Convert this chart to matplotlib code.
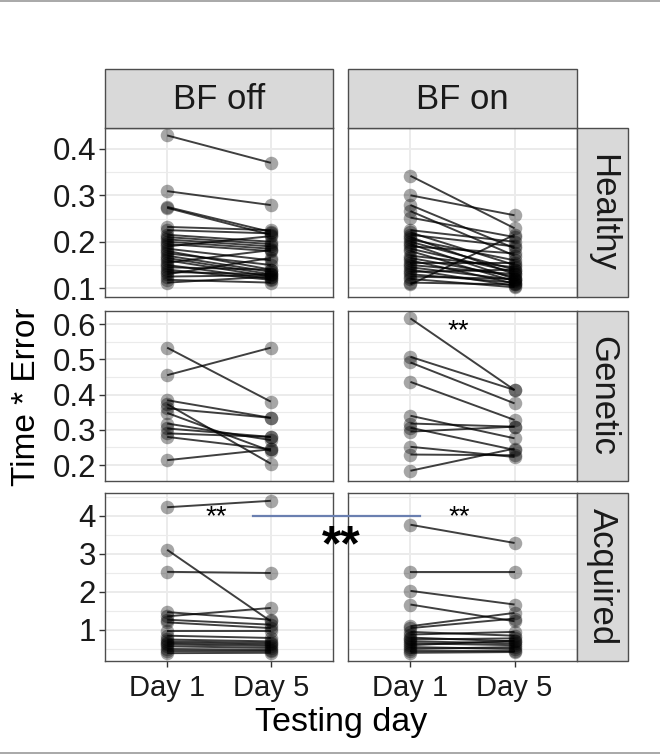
import matplotlib
matplotlib.use("Agg")
import matplotlib.pyplot as plt
from matplotlib.lines import Line2D
from matplotlib.patches import Rectangle

plt.rcParams['font.family'] = ['Liberation Sans', 'DejaVu Sans']

days = ["Day 1", "Day 5"]
conditions = ["BF off", "BF on"]
groups = ["Healthy", "Genetic", "Acquired"]

healthy_off_d1 = [0.429, 0.309, 0.275, 0.273, 0.232, 0.225, 0.215, 0.210, 0.205, 0.200, 0.195, 0.190,
                  0.185, 0.180, 0.175, 0.170, 0.165, 0.160, 0.155, 0.150, 0.145, 0.140, 0.135, 0.130,
                  0.125, 0.118, 0.112]
healthy_off_d5 = [0.370, 0.279, 0.221, 0.215, 0.225, 0.218, 0.200, 0.195, 0.190, 0.185, 0.180, 0.212,
                  0.160, 0.140, 0.150, 0.135, 0.130, 0.125, 0.182, 0.120, 0.140, 0.118, 0.130, 0.165,
                  0.128, 0.112, 0.125]
healthy_on_d1 = [0.342, 0.300, 0.279, 0.266, 0.252, 0.225, 0.220, 0.215, 0.210, 0.205, 0.200, 0.195,
                 0.190, 0.185, 0.180, 0.170, 0.165, 0.160, 0.155, 0.150, 0.145, 0.140, 0.135, 0.130,
                 0.125, 0.120, 0.112, 0.108]
healthy_on_d5 = [0.229, 0.257, 0.186, 0.170, 0.210, 0.200, 0.150, 0.190, 0.130, 0.160, 0.140, 0.120,
                 0.175, 0.135, 0.115, 0.145, 0.125, 0.110, 0.155, 0.130, 0.118, 0.105, 0.140, 0.112,
                 0.120, 0.102, 0.108, 0.215]
genetic_off_d1 = [0.533, 0.455, 0.384, 0.373, 0.361, 0.348, 0.318, 0.304, 0.290, 0.280, 0.214]
genetic_off_d5 = [0.380, 0.533, 0.334, 0.204, 0.334, 0.240, 0.271, 0.280, 0.280, 0.245, 0.245]
genetic_on_d1 = [0.616, 0.507, 0.491, 0.436, 0.340, 0.318, 0.306, 0.295, 0.252, 0.230, 0.184]
genetic_on_d5 = [0.413, 0.413, 0.375, 0.328, 0.276, 0.309, 0.243, 0.309, 0.223, 0.228, 0.247]
acquired_off_d1 = [4.23, 3.11, 2.53, 1.36, 1.47, 1.27, 1.20, 0.97, 0.85, 0.75, 0.70, 0.66, 0.62, 0.57,
                   0.50, 0.45, 0.39]
acquired_off_d5 = [4.40, 1.23, 2.50, 1.58, 1.27, 1.14, 1.05, 0.97, 0.79, 0.70, 0.66, 0.62, 0.58, 0.53,
                   0.48, 0.45, 0.40]
acquired_on_d1 = [3.77, 2.52, 2.03, 1.67, 1.10, 1.05, 0.95, 0.88, 0.80, 0.75, 0.70, 0.65, 0.60, 0.55,
                  0.50, 0.45, 0.40]
acquired_on_d5 = [3.29, 2.52, 1.67, 1.23, 1.45, 1.30, 0.85, 0.95, 0.70, 0.78, 0.65, 0.60, 0.72, 0.50,
                  0.55, 0.45, 0.42]

data = {
    ("Healthy", "BF off"): (healthy_off_d1, healthy_off_d5),
    ("Healthy", "BF on"): (healthy_on_d1, healthy_on_d5),
    ("Genetic", "BF off"): (genetic_off_d1, genetic_off_d5),
    ("Genetic", "BF on"): (genetic_on_d1, genetic_on_d5),
    ("Acquired", "BF off"): (acquired_off_d1, acquired_off_d5),
    ("Acquired", "BF on"): (acquired_on_d1, acquired_on_d5),
}
row_ticks = {
    "Healthy": [0.1, 0.2, 0.3, 0.4],
    "Genetic": [0.2, 0.3, 0.4, 0.5, 0.6],
    "Acquired": [1, 2, 3, 4],
}
row_limits = {
    "Healthy": (0.081, 0.445),
    "Genetic": (0.155, 0.637),
    "Acquired": (0.184, 4.605),
}
tick_fmt = {"Healthy": "{:.1f}", "Genetic": "{:.1f}", "Acquired": "{:d}"}

W, H = 660, 755
fig = plt.figure(figsize=(W / 100, H / 100), dpi=100)

def fx(px):
    return px / W

def fy(py):
    return 1 - py / H

col_x = [(105, 333), (348, 577)]
row_y = [(128, 297), (311, 481), (493, 661)]
strip_top = (69, 128)
strip_right = (577, 628)

strip_bg = "#d9d9d9"
border_col = "#4d4d4d"
grid_col = "#ebebeb"

axes = {}
for ri, g in enumerate(groups):
    for ci, c in enumerate(conditions):
        x0, x1 = col_x[ci]
        y0, y1 = row_y[ri]
        ax = fig.add_axes([fx(x0), fy(y1), fx(x1 - x0), (y1 - y0) / H])
        axes[(g, c)] = ax
        d1, d5 = data[(g, c)]
        for a, b in zip(d1, d5):
            ax.plot([0, 1], [a, b], color="black", alpha=0.75, lw=1.4, zorder=3,
                    solid_capstyle="butt")
        ax.scatter([0] * len(d1), d1, s=95, color="#000000", alpha=0.35, lw=0, zorder=4)
        ax.scatter([1] * len(d5), d5, s=95, color="#000000", alpha=0.35, lw=0, zorder=4)
        ax.set_xlim(-0.6, 1.6)
        ax.set_ylim(*row_limits[g])
        ticks = row_ticks[g]
        ax.set_yticks(ticks)
        minors = [(ticks[i] + ticks[i + 1]) / 2 for i in range(len(ticks) - 1)]
        lo, hi = row_limits[g]
        step = ticks[1] - ticks[0]
        if ticks[0] - step / 2 > lo:
            minors.insert(0, ticks[0] - step / 2)
        if ticks[-1] + step / 2 < hi:
            minors.append(ticks[-1] + step / 2)
        ax.set_yticks(minors, minor=True)
        ax.set_xticks([0, 1])
        ax.grid(True, which="major", color=grid_col, lw=1.4, zorder=0)
        ax.grid(True, which="minor", axis="y", color=grid_col, lw=0.8, zorder=0)
        ax.set_axisbelow(True)
        for s in ax.spines.values():
            s.set_color(border_col)
            s.set_linewidth(1.0)
        ax.tick_params(which="minor", length=0)
        ax.tick_params(which="major", length=4, width=1, color="#333333", pad=2.5)
        if ci == 0:
            ax.set_yticklabels([tick_fmt[g].format(t) for t in ticks], fontsize=22.5,
                               color="#1a1a1a")
        else:
            ax.tick_params(axis="y", which="major", length=0)
            ax.set_yticklabels([])
        if ri == 2:
            ax.set_xticklabels(days, fontsize=21, color="#1a1a1a")
            ax.tick_params(axis="x", which="major", pad=5)
        else:
            ax.tick_params(axis="x", which="major", length=0)
            ax.set_xticklabels([])

# strips
for ci, c in enumerate(conditions):
    x0, x1 = col_x[ci]
    fig.patches.append(Rectangle((fx(x0), fy(strip_top[1])), fx(x1 - x0),
                                 (strip_top[1] - strip_top[0]) / H,
                                 transform=fig.transFigure, facecolor=strip_bg,
                                 edgecolor=border_col, lw=1.0, zorder=1))
    fig.text(fx((x0 + x1) / 2), fy((strip_top[0] + strip_top[1]) / 2 + 1), c,
             ha="center", va="center", fontsize=25, color="#1a1a1a")
for ri, g in enumerate(groups):
    y0, y1 = row_y[ri]
    fig.patches.append(Rectangle((fx(strip_right[0]), fy(y1)), fx(strip_right[1] - strip_right[0]),
                                 (y1 - y0) / H, transform=fig.transFigure, facecolor=strip_bg,
                                 edgecolor=border_col, lw=1.0, zorder=1))
    fig.text(fx((strip_right[0] + strip_right[1]) / 2), fy((y0 + y1) / 2), g,
             ha="center", va="center", rotation=-90, fontsize=25, color="#1a1a1a")

# axis titles
fig.text(fx(27), fy(397), "Time * Error", rotation=90, ha="center", va="center",
         fontsize=24, color="black")
fig.text(fx(341), fy(722), "Testing day", ha="center", va="center", fontsize=24.5, color="black")

# annotations
axes[("Genetic", "BF on")].text(0.46, 0.580, "**", ha="center", va="center", fontsize=20)
axes[("Acquired", "BF off")].text(0.47, 3.96, "**", ha="center", va="center", fontsize=20)
axes[("Acquired", "BF on")].text(0.47, 3.96, "**", ha="center", va="center", fontsize=20)

fig.add_artist(Line2D([fx(253), fx(420)], [fy(516), fy(516)], color="#6a7fb0", lw=1.6,
                      transform=fig.transFigure, zorder=10))
fig.text(fx(341), fy(547), "**", ha="center", va="center", fontsize=36, fontweight="bold",
         color="black", zorder=10)

# thin frame lines at top and bottom
fig.add_artist(Line2D([0, 1], [fy(1), fy(1)], color="#9a9a9a", lw=1.2, transform=fig.transFigure))
fig.add_artist(Line2D([0, 1], [fy(753), fy(753)], color="#9a9a9a", lw=1.2, transform=fig.transFigure))

fig.savefig("out.png", dpi=100, facecolor="white")
